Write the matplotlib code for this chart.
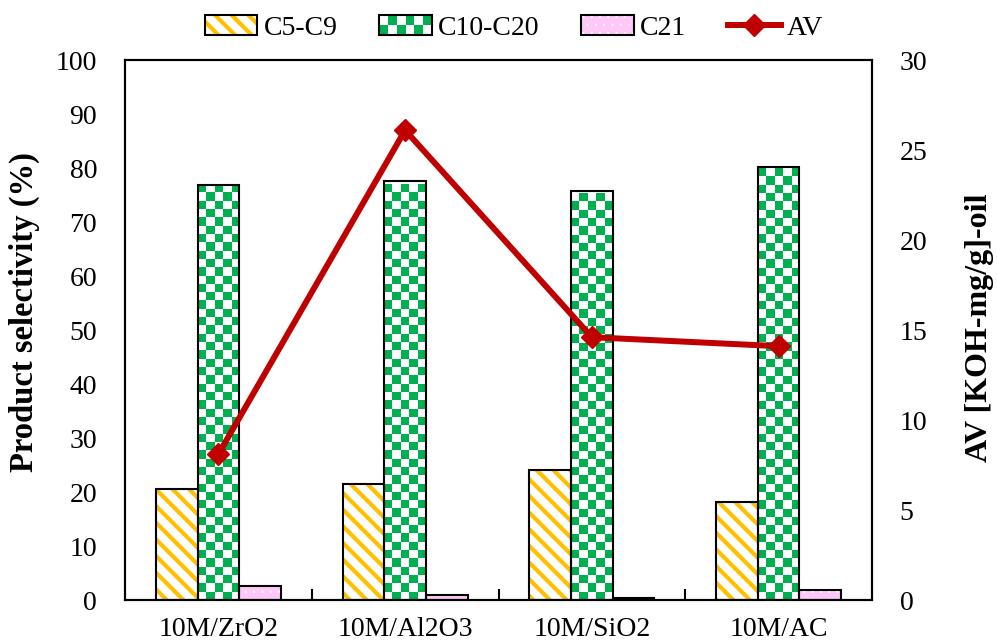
import matplotlib
matplotlib.use("Agg")
import matplotlib.pyplot as plt
import numpy as np
from matplotlib.patches import Rectangle
from matplotlib.legend_handler import HandlerBase

plt.rcParams['font.family'] = ['Liberation Serif', 'DejaVu Serif']

# data
catalysts = ['10M/ZrO2', '10M/Al2O3', '10M/SiO2', '10M/AC']
c5_c9 = [20.5, 21.5, 24.1, 18.1]
c10_c20 = [76.9, 77.6, 75.7, 80.1]
c21 = [2.6, 1.0, 0.4, 1.8]
av = [8.1, 26.1, 14.6, 14.1]

orange = '#FFC000'
green = '#00B050'
pink = '#FFC8F8'
red = '#C00000'

fig = plt.figure(figsize=(9.97, 6.43), dpi=100)
ax = fig.add_axes([125 / 997, 43 / 643, 747 / 997, 540 / 643])
ax2 = ax.twinx()

x = np.arange(len(catalysts))
w = 0.223

ax.set_xlim(-0.5, len(catalysts) - 0.5)
ax.set_ylim(0, 100)
ax2.set_ylim(0, 30)

# C5-C9: orange stripes
with plt.rc_context({'hatch.linewidth': 3.0}):
    ax.bar(x - w, c5_c9, w, color='white', edgecolor=orange, linewidth=0, hatch='\\\\', zorder=2)
ax.bar(x - w, c5_c9, w, fill=False, edgecolor='black', linewidth=1.5, zorder=3)

# C10-C20: green checkerboard
green_bars = ax.bar(x, c10_c20, w, color='none', edgecolor='black', linewidth=1.5, zorder=3)
cell = 8.3
cmap = matplotlib.colors.ListedColormap(['white', green])
for b in green_bars:
    bx, by = b.get_x(), b.get_y()
    bw, bh = b.get_width(), b.get_height()
    p0 = ax.transData.transform((bx, by))
    p1 = ax.transData.transform((bx + bw, by + bh))
    nc = max(1, int(round((p1[0] - p0[0]) / cell)))
    nr = max(1, int(round((p1[1] - p0[1]) / cell)))
    ii, jj = np.indices((nr, nc))
    board = (ii + jj) % 2
    clip = Rectangle((bx, by), bw, bh, transform=ax.transData)
    top = by + nr * cell * bh / (p1[1] - p0[1])
    im = ax.imshow(board, cmap=cmap, origin='lower', extent=(bx, bx + bw, by, top),
                   aspect='auto', interpolation='nearest', zorder=2.5)
    im.set_clip_path(clip)

# C21: pink with small white dots
with plt.rc_context({'hatch.linewidth': 0.5}):
    ax.bar(x + w, c21, w, color=pink, edgecolor='white', linewidth=0, hatch='..', zorder=2)
ax.bar(x + w, c21, w, fill=False, edgecolor='black', linewidth=1.5, zorder=3)

ax.set_xlim(-0.5, len(catalysts) - 0.5)
ax.set_ylim(0, 100)

# AV line on the right axis
line, = ax2.plot(x, av, color=red, linewidth=4.3, marker='D', markersize=11, zorder=5)

ax.set_xticks(x)
ax.set_xticklabels(catalysts, fontsize=20)
ax.set_xticks(np.arange(0.5, len(catalysts) - 1), minor=True)
ax.tick_params(axis='x', which='major', length=0, pad=12.5)
ax.tick_params(axis='x', which='minor', direction='in', length=8, width=1.5)
ax.set_yticks(np.arange(0, 101, 10))
ax.tick_params(axis='y', length=0, pad=20, labelsize=20)
ax2.set_yticks(np.arange(0, 31, 5))
ax2.tick_params(axis='y', length=0, pad=20, labelsize=20)

for a in (ax, ax2):
    for s in a.spines.values():
        s.set_linewidth(1.5)

ax.set_ylabel('Product selectivity (%)', fontsize=23.5, fontweight='bold')
ax.yaxis.set_label_coords(-0.114, 0.533)
ax2.set_ylabel('AV [KOH-mg/g]-oil', fontsize=23, fontweight='bold', rotation=90)
ax2.yaxis.set_label_coords(1.1245, 0.505)


class HatchHandler(HandlerBase):
    def __init__(self, face, hatchcolor, hatch, hlw):
        super().__init__()
        self.face, self.hatchcolor, self.hatch, self.hlw = face, hatchcolor, hatch, hlw

    def create_artists(self, legend, orig_handle, xdescent, ydescent, width, height, fontsize, trans):
        with plt.rc_context({'hatch.linewidth': self.hlw}):
            fill = Rectangle((-xdescent, -ydescent), width, height, facecolor=self.face,
                             edgecolor=self.hatchcolor, linewidth=0, hatch=self.hatch, transform=trans)
        edge = Rectangle((-xdescent, -ydescent), width, height, facecolor='none',
                         edgecolor='black', linewidth=1.5, transform=trans)
        return [fill, edge]


class CheckerHandler(HandlerBase):
    def create_artists(self, legend, orig_handle, xdescent, ydescent, width, height, fontsize, trans):
        arts = []
        nx, ny = 6, 2
        cw, ch = width / nx, height / ny
        for i in range(nx):
            for j in range(ny):
                if (i + j) % 2 == 0:
                    arts.append(Rectangle((-xdescent + i * cw, -ydescent + j * ch), cw, ch,
                                          facecolor=green, edgecolor='none', transform=trans))
        arts.append(Rectangle((-xdescent, -ydescent), width, height, facecolor='none',
                              edgecolor='black', linewidth=1.5, transform=trans))
        return arts


h1 = Rectangle((0, 0), 1, 1)
h2 = Rectangle((0, 0), 1, 1)
h3 = Rectangle((0, 0), 1, 1)
fig.legend([h1, h2, h3, line], ['C5-C9', 'C10-C20', 'C21', 'AV'],
           handler_map={h1: HatchHandler('white', orange, '\\\\', 3.0),
                        h2: CheckerHandler(),
                        h3: HatchHandler(pink, 'white', '..', 0.5)},
           loc='center', bbox_to_anchor=(514 / 997, 1 - 28 / 643), ncol=4, frameon=False,
           fontsize=20, handlelength=1.9, handletextpad=0.22, columnspacing=1.5,
           borderaxespad=0, borderpad=0)

fig.savefig('out.png', dpi=100)
